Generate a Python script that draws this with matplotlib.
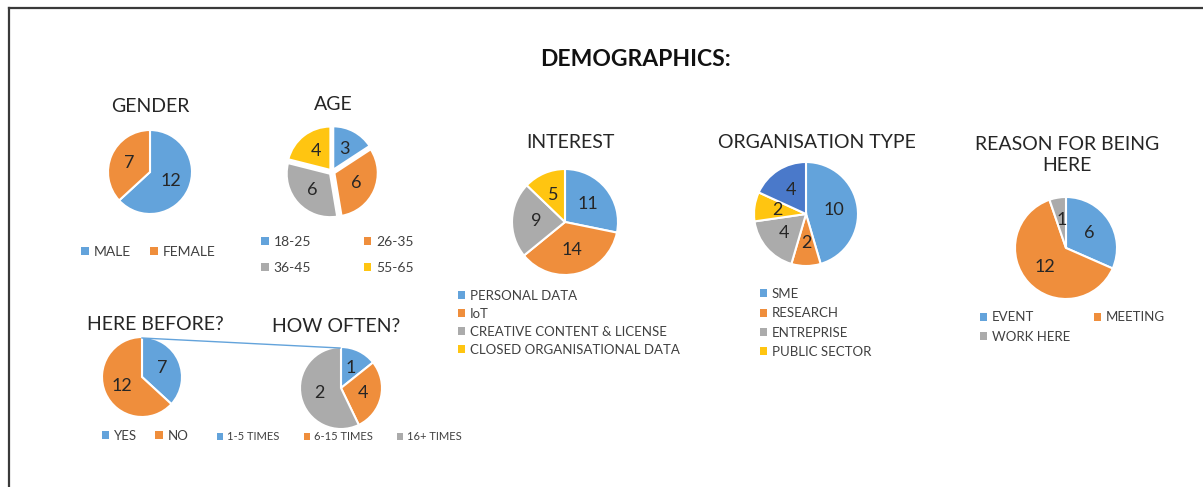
import numpy as np
import matplotlib
matplotlib.use('Agg')
import matplotlib.pyplot as plt
import matplotlib.patches as mpatches
from matplotlib.lines import Line2D

plt.rcParams['font.family'] = ['Lato', 'DejaVu Sans']

W, H = 1203, 487

BLUE = '#63A3DB'
ORANGE = '#EF8E3C'
GREY = '#ABABAB'
YELLOW = '#FFC511'
DBLUE = '#4A79CA'
TXT = '#262626'
LEG = '#404040'

# data
gender_labels = ['MALE', 'FEMALE']
gender_values = [12, 7]

age_labels = ['18-25', '26-35', '36-45', '55-65']
age_values = [3, 6, 6, 4]

interest_labels = ['PERSONAL DATA', 'IoT', 'CREATIVE CONTENT & LICENSE',
                   'CLOSED ORGANISATIONAL DATA']
interest_values = [11, 14, 9, 5]

org_labels = ['SME', 'RESEARCH', 'ENTREPRISE', 'PUBLIC SECTOR']
org_values = [10, 2, 4, 2, 4]   # last slice has no legend entry

reason_labels = ['EVENT', 'MEETING', 'WORK HERE']
reason_values = [6, 12, 1]

before_labels = ['YES', 'NO']
before_values = [7, 12]

often_labels = ['1-5 TIMES', '6-15 TIMES', '16+ TIMES']
often_sizes = [1, 2, 4]    # slice sizes as drawn
often_values = [1, 4, 2]   # numbers printed on the slices


def px(x, y):
    return x / W, 1 - y / H


fig = plt.figure(figsize=(W / 100, H / 100), dpi=100)


def draw_pie(cx, cy, r, values, colors, shown=None, explode=0.0, dist=0.55, fs=13):
    lim = 1 + explode
    ax = fig.add_axes([(cx - r) / W, 1 - (cy + r) / H, 2 * r / W, 2 * r / H])
    wedges, _ = ax.pie(values, colors=colors, startangle=90, counterclock=False,
                       explode=[explode] * len(values),
                       wedgeprops=dict(edgecolor='white', linewidth=1.5))
    if shown is None:
        shown = values
    for w, s in zip(wedges, shown):
        th = np.deg2rad((w.theta1 + w.theta2) / 2)
        x = w.center[0] + dist * np.cos(th)
        y = w.center[1] + dist * np.sin(th)
        ax.text(x, y, str(s), ha='center', va='center', fontsize=fs, color=TXT)
    ax.set_xlim(-lim, lim)
    ax.set_ylim(-lim, lim)
    ax.axis('off')
    return wedges


def legend(labels, colors, x, y, ncol=1, fs=10, colsp=1.5, labsp=0.5, order=None):
    handles = [mpatches.Patch(facecolor=c, edgecolor='none') for c in colors]
    if order is not None:
        handles = [handles[i] for i in order]
        labels = [labels[i] for i in order]
    fig.legend(handles, labels, loc='center left', bbox_to_anchor=px(x, y),
               bbox_transform=fig.transFigure, ncol=ncol, frameon=False,
               fontsize=fs, handlelength=0.55, handleheight=0.55,
               handletextpad=0.35, columnspacing=colsp, labelspacing=labsp,
               borderpad=0, borderaxespad=0, labelcolor=LEG)


def title(text, x, y, fs=14):
    fig.text(*px(x, y), text, ha='center', va='center', fontsize=fs, color=TXT,
             linespacing=1.25)


fig.text(*px(636, 60), 'DEMOGRAPHICS:', ha='center', va='center',
         fontsize=16.5, fontweight='bold', color='#111111')

# gender
title('GENDER', 150, 107)
draw_pie(150, 172, 42, gender_values, [BLUE, ORANGE])
legend(gender_labels, [BLUE, ORANGE], 81, 252, ncol=2, colsp=1.4)

# age
title('AGE', 333, 105)
draw_pie(332, 172, 46, age_values, [BLUE, ORANGE, GREY, YELLOW], explode=0.06)
legend(age_labels, [BLUE, ORANGE, GREY, YELLOW], 261, 255, ncol=2,
       colsp=3.8, labsp=1.0, order=[0, 2, 1, 3])

# interest
title('INTEREST', 570, 143)
draw_pie(565, 222, 53, interest_values, [BLUE, ORANGE, GREY, YELLOW])
legend(interest_labels, [BLUE, ORANGE, GREY, YELLOW], 458, 323, fs=9.5, labsp=0.45)

# organisation type
title('ORGANISATION TYPE', 817, 143)
draw_pie(806, 214, 52, org_values, [BLUE, ORANGE, GREY, YELLOW, DBLUE])
legend(org_labels, [BLUE, ORANGE, GREY, YELLOW], 760, 323, fs=9.5, labsp=0.55)

# reason for being here
title('REASON FOR BEING\nHERE', 1067, 155)
draw_pie(1066, 248, 51, reason_values, [BLUE, ORANGE, GREY])
legend(reason_labels, [BLUE, ORANGE, GREY], 980, 327, ncol=2, fs=9.5,
       colsp=1.8, labsp=0.55, order=[0, 2, 1])

# here before
title('HERE BEFORE?', 155, 325)
draw_pie(142, 377, 40, before_values, [BLUE, ORANGE])
legend(before_labels, [BLUE, ORANGE], 102, 436, ncol=2, fs=9.5, colsp=1.4)

# how often
title('HOW OFTEN?', 336, 327)
draw_pie(341, 388, 41, often_sizes, [BLUE, ORANGE, GREY], shown=often_values)
legend(often_labels, [BLUE, ORANGE, GREY], 217, 437, ncol=3, fs=8, colsp=2.2)

# connector line between the two lower pies
fig.add_artist(Line2D(*zip(px(142, 338), px(340, 348)), color=BLUE, lw=1,
                      transform=fig.transFigure))

# frame
fig.add_artist(Line2D([9 / W, 9 / W], [0, 1 - 8 / H], color='#3a3a3a', lw=1.6,
                      transform=fig.transFigure))
fig.add_artist(Line2D([9 / W, 1], [1 - 8 / H, 1 - 8 / H], color='#3a3a3a', lw=1.6,
                      transform=fig.transFigure))

fig.savefig('out.png', dpi=100, facecolor='white')
